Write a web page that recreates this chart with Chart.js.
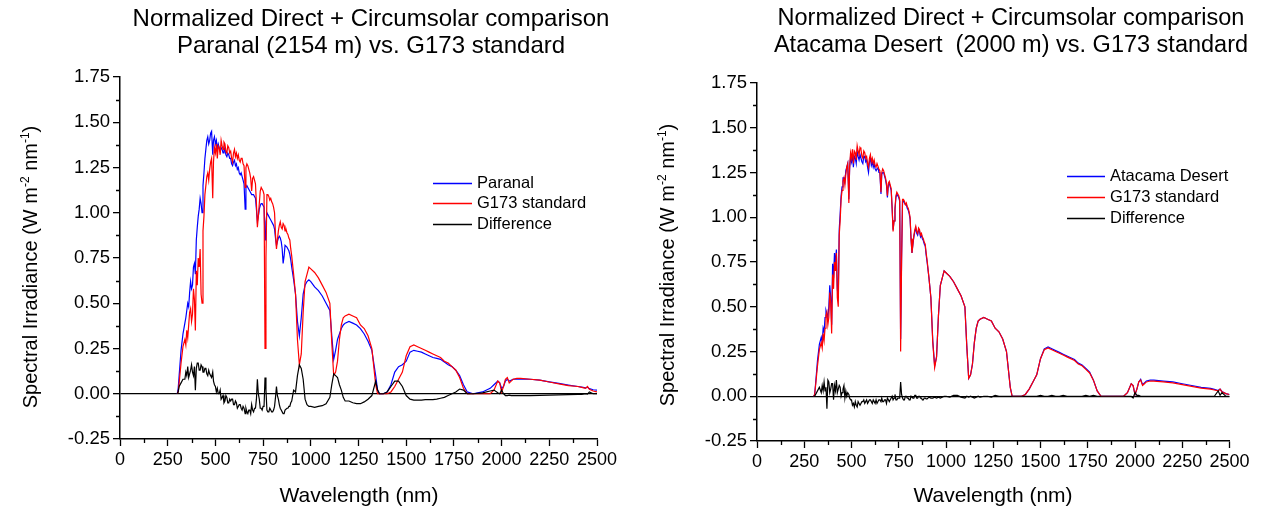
<!DOCTYPE html>
<html>
<head>
<meta charset="utf-8">
<script src="https://cdn.jsdelivr.net/npm/chart.js@4.4.1/dist/chart.umd.min.js"></script>
<style>
  html, body { margin: 0; padding: 0; background: #fff; }
  body { width: 1270px; height: 510px; position: relative; overflow: hidden; }
  canvas { position: absolute; top: 0; }
  #c1 { left: 0; }
  #c2 { left: 635px; }
</style>
</head>
<body>
<canvas id="c1" width="635" height="510"></canvas>
<canvas id="c2" width="635" height="510"></canvas>
<script>
// ---------------- DATA ----------------
const wavelengths = [
  300, 305, 310, 320, 330, 340, 345, 350, 355, 360,
  365, 370, 375, 380, 385, 390, 395, 400, 405, 410,
  415, 420, 425, 430, 435, 440, 445, 450, 455, 460,
  465, 470, 475, 480, 486, 490, 495, 500, 505, 510,
  515, 520, 525, 530, 535, 540, 545, 550, 555, 560,
  565, 570, 575, 580, 585, 590, 595, 600, 605, 610,
  615, 620, 625, 630, 635, 640, 645, 650, 656, 660,
  665, 670, 675, 680, 685, 690, 695, 700, 705, 710,
  715, 720, 725, 730, 735, 740, 745, 750, 755, 760,
  765, 770, 775, 780, 785, 790, 795, 800, 805, 810,
  815, 820, 825, 830, 835, 840, 845, 850, 855, 860,
  865, 870, 875, 880, 885, 890, 895, 900, 910, 920,
  930, 940, 950, 960, 970, 980, 990, 1000, 1020, 1040,
  1060, 1080, 1100, 1110, 1120, 1130, 1140, 1150, 1160, 1170,
  1180, 1200, 1220, 1240, 1260, 1280, 1300, 1320, 1340, 1350,
  1360, 1380, 1400, 1420, 1440, 1460, 1480, 1500, 1520, 1540,
  1560, 1580, 1600, 1620, 1640, 1660, 1680, 1700, 1720, 1740,
  1760, 1780, 1800, 1820, 1850, 1900, 1940, 1960, 1980, 1990,
  2000, 2010, 2020, 2030, 2040, 2050, 2060, 2080, 2100, 2150,
  2200, 2250, 2300, 2350, 2400, 2420, 2440, 2450, 2460, 2480,
  2500
];

const g173 = [
  0, 0.01, 0.06, 0.17, 0.26, 0.30, 0.27, 0.35, 0.31, 0.38,
  0.45, 0.47, 0.40, 0.44, 0.58, 0.52, 0.35, 0.68, 0.60, 0.75,
  0.70, 0.80, 0.55, 0.50, 0.90, 0.98, 1.10, 1.15, 1.20, 1.22,
  1.18, 1.24, 1.28, 1.30, 1.08, 1.28, 1.36, 1.33, 1.38, 1.30,
  1.37, 1.36, 1.32, 1.40, 1.37, 1.35, 1.39, 1.38, 1.34, 1.33,
  1.37, 1.36, 1.33, 1.34, 1.30, 1.28, 1.33, 1.35, 1.31, 1.33,
  1.30, 1.32, 1.29, 1.28, 1.30, 1.30, 1.27, 1.26, 1.14, 1.25,
  1.27, 1.26, 1.24, 1.22, 1.19, 1.12, 1.19, 1.20, 1.18, 1.16,
  1.05, 0.92, 0.98, 1.05, 1.12, 1.14, 1.13, 1.12, 1.10, 0.25,
  0.75, 1.10, 1.10, 1.09, 1.07, 1.08, 1.06, 1.05, 1.03, 1.00,
  0.88, 0.80, 0.85, 0.90, 0.93, 0.95, 0.92, 0.91, 0.94, 0.93,
  0.90, 0.91, 0.89, 0.88, 0.86, 0.85, 0.80, 0.76, 0.66, 0.55,
  0.30, 0.16, 0.22, 0.45, 0.62, 0.66, 0.70, 0.69, 0.67, 0.64,
  0.60, 0.56, 0.50, 0.28, 0.10, 0.12, 0.18, 0.30, 0.38, 0.42,
  0.43, 0.44, 0.43, 0.42, 0.38, 0.36, 0.32, 0.25, 0.05, 0,
  0, 0, 0, 0.01, 0.04, 0.08, 0.12, 0.21, 0.26, 0.27,
  0.26, 0.25, 0.24, 0.23, 0.22, 0.21, 0.20, 0.18, 0.17, 0.15,
  0.13, 0.09, 0.03, 0, 0, 0, 0, 0.02, 0.07, 0.06,
  0.01, 0.04, 0.08, 0.09, 0.06, 0.07, 0.08, 0.085, 0.085, 0.08,
  0.075, 0.065, 0.055, 0.045, 0.04, 0.035, 0.03, 0.04, 0.025, 0.015,
  0.01
];

const paranal = [
  0, 0.03, 0.10, 0.24, 0.33, 0.39, 0.42, 0.46, 0.50, 0.48,
  0.56, 0.62, 0.58, 0.60, 0.70, 0.72, 0.66, 0.85, 0.92, 0.98,
  1.02, 1.08, 1.05, 1.00, 1.15, 1.22, 1.30, 1.35, 1.40, 1.42,
  1.38, 1.40, 1.44, 1.45, 1.32, 1.40, 1.42, 1.38, 1.40, 1.35,
  1.38, 1.36, 1.34, 1.36, 1.35, 1.33, 1.36, 1.35, 1.32, 1.31,
  1.33, 1.32, 1.30, 1.30, 1.27, 1.26, 1.28, 1.29, 1.26, 1.27,
  1.24, 1.25, 1.22, 1.21, 1.22, 1.20, 1.18, 1.16, 1.02, 1.14,
  1.15, 1.14, 1.13, 1.12, 1.11, 1.10, 1.10, 1.10, 1.09, 1.08,
  1.02, 0.95, 0.98, 1.02, 1.04, 1.05, 1.05, 1.04, 1.03, 0.85,
  0.95, 1.00, 0.99, 0.98, 0.97, 0.96, 0.95, 0.94, 0.93, 0.91,
  0.86, 0.82, 0.84, 0.86, 0.87, 0.86, 0.84, 0.80, 0.72, 0.76,
  0.82, 0.82, 0.81, 0.80, 0.79, 0.77, 0.74, 0.70, 0.63, 0.55,
  0.40, 0.32, 0.42, 0.55, 0.60, 0.62, 0.63, 0.62, 0.59, 0.57,
  0.54, 0.50, 0.46, 0.32, 0.19, 0.24, 0.30, 0.33, 0.36, 0.38,
  0.39, 0.40, 0.39, 0.38, 0.36, 0.33, 0.29, 0.24, 0.10, 0.02,
  0, 0, 0.01, 0.05, 0.12, 0.15, 0.16, 0.18, 0.23, 0.24,
  0.235, 0.23, 0.22, 0.21, 0.20, 0.195, 0.19, 0.175, 0.16, 0.15,
  0.13, 0.10, 0.05, 0.01, 0, 0.01, 0.03, 0.05, 0.07, 0.06,
  0.03, 0.04, 0.07, 0.08, 0.07, 0.075, 0.08, 0.08, 0.082, 0.08,
  0.075, 0.066, 0.057, 0.048, 0.04, 0.037, 0.032, 0.036, 0.028, 0.022,
  0.02
];

const diffParanal = [
  0, 0.01, 0.04, 0.06, 0.08, 0.08, 0.12, 0.10, 0.15, 0.09,
  0.11, 0.13, 0.16, 0.12, 0.10, 0.15, 0.02, 0.14, 0.17, 0.17,
  0.13, 0.13, 0.16, 0.15, 0.12, 0.12, 0.14, 0.14, 0.11, 0.10,
  0.13, 0.11, 0.10, 0.09, 0.12, 0.07, 0.05, 0.04, 0.01, 0.03,
  0.00, 0.00, 0.02, -0.03, -0.02, -0.01, -0.05, -0.04, -0.01, -0.02,
  -0.05, -0.05, -0.03, -0.04, -0.03, -0.03, -0.06, -0.06, -0.04, -0.05,
  -0.08, -0.07, -0.06, -0.06, -0.08, -0.09, -0.07, -0.08, -0.11, -0.08,
  -0.10, -0.11, -0.09, -0.09, -0.11, -0.06, -0.09, -0.10, -0.08, -0.08,
  -0.03, 0.08, 0.00, -0.03, -0.08, -0.08, -0.09, -0.07, -0.07, 0.09,
  0.02, -0.09, -0.10, -0.10, -0.08, -0.09, -0.10, -0.10, -0.09, -0.07,
  -0.02, 0.04, -0.01, -0.03, -0.06, -0.08, -0.09, -0.10, -0.11, -0.11,
  -0.09, -0.09, -0.08, -0.08, -0.07, -0.07, -0.05, -0.04, 0.02, 0.01,
  0.10, 0.16, 0.14, 0.08, -0.03, -0.06, -0.07, -0.07, -0.075, -0.07,
  -0.066, -0.055, -0.02, 0.05, 0.11, 0.10, 0.09, 0.05, 0.02, -0.02,
  -0.04, -0.04, -0.05, -0.055, -0.055, -0.045, -0.03, -0.01, 0.07, 0.02,
  0, 0, 0.01, 0.04, 0.07, 0.07, 0.04, -0.01, -0.03, -0.035,
  -0.035, -0.035, -0.033, -0.033, -0.032, -0.03, -0.025, -0.02, -0.01, 0,
  0.01, 0.026, 0.02, 0, 0, 0.005, 0.015, 0.02, 0.005, 0,
  0.02, 0, -0.01, -0.01, -0.008, -0.01, -0.01, -0.01, -0.01, -0.01,
  -0.009, -0.008, -0.006, -0.005, -0.004, -0.003, 0, -0.002, 0.01, 0,
  0
];

const atacama = [
  0, 0.01, 0.07, 0.20, 0.29, 0.33, 0.30, 0.38, 0.36, 0.44,
  0.48, 0.46, 0.44, 0.50, 0.62, 0.55, 0.40, 0.74, 0.66, 0.80,
  0.74, 0.82, 0.60, 0.55, 0.93, 1.02, 1.12, 1.17, 1.22, 1.22,
  1.20, 1.26, 1.28, 1.30, 1.10, 1.27, 1.34, 1.31, 1.35, 1.28,
  1.34, 1.33, 1.30, 1.37, 1.34, 1.32, 1.35, 1.35, 1.31, 1.30,
  1.34, 1.34, 1.31, 1.32, 1.28, 1.25, 1.31, 1.33, 1.29, 1.31,
  1.28, 1.30, 1.27, 1.26, 1.27, 1.28, 1.25, 1.25, 1.13, 1.24,
  1.25, 1.25, 1.23, 1.21, 1.18, 1.11, 1.18, 1.19, 1.17, 1.15,
  1.05, 0.93, 0.98, 1.04, 1.11, 1.13, 1.12, 1.11, 1.09, 0.32,
  0.77, 1.09, 1.09, 1.08, 1.07, 1.07, 1.05, 1.04, 1.02, 0.99,
  0.88, 0.80, 0.85, 0.89, 0.92, 0.94, 0.91, 0.90, 0.93, 0.92,
  0.89, 0.90, 0.88, 0.87, 0.85, 0.84, 0.79, 0.75, 0.66, 0.55,
  0.31, 0.17, 0.22, 0.45, 0.62, 0.66, 0.70, 0.69, 0.67, 0.64,
  0.60, 0.56, 0.50, 0.28, 0.10, 0.12, 0.18, 0.30, 0.38, 0.42,
  0.43, 0.44, 0.43, 0.42, 0.38, 0.36, 0.32, 0.25, 0.05, 0,
  0, 0, 0, 0.01, 0.04, 0.08, 0.12, 0.21, 0.265, 0.275,
  0.265, 0.255, 0.245, 0.235, 0.225, 0.215, 0.205, 0.185, 0.175, 0.155,
  0.135, 0.09, 0.03, 0, 0, 0, 0, 0.02, 0.07, 0.06,
  0.01, 0.04, 0.08, 0.095, 0.065, 0.075, 0.085, 0.09, 0.09, 0.085,
  0.08, 0.07, 0.06, 0.05, 0.044, 0.038, 0.032, 0.04, 0.027, 0.015,
  0.01
];

const diffAtacama = [
  0, 0, 0.01, 0.03, 0.05, 0.02, 0.06, 0.03, 0.08, 0.03,
  0.05, -0.07, 0.09, 0.08, 0.02, 0.04, 0.07, 0.07, -0.02, 0.06,
  0.03, 0.09, 0.02, 0.04, 0.06, 0.05, 0.0, 0.02, 0.04, 0.06,
  -0.01, 0.03, 0.0, 0.02, 0.01, -0.01, -0.02, -0.02, -0.05, -0.04,
  -0.06, -0.03, -0.05, -0.06, -0.03, -0.04, -0.05, -0.05, -0.03, -0.03,
  -0.02, -0.04, -0.03, -0.02, -0.04, -0.03, -0.02, -0.02, -0.03, -0.04,
  -0.02, -0.03, -0.04, -0.02, -0.04, -0.04, -0.02, -0.02, -0.03, -0.01,
  -0.03, -0.03, -0.02, -0.02, -0.04, -0.01, -0.02, -0.03, -0.02, -0.01,
  0.0, -0.02, -0.01, 0.01, -0.02, -0.02, -0.01, -0.01, -0.01, 0.08,
  0.01, -0.01, -0.02, -0.02, 0.0, 0.0, -0.01, -0.01, -0.02, -0.02,
  0.0, 0.0, -0.01, -0.01, 0.005, 0.005, -0.01, -0.01, 0.0, 0.0,
  -0.01, -0.01, -0.02, -0.02, -0.01, -0.01, -0.015, -0.015, -0.005, -0.01,
  -0.01, -0.005, -0.01, -0.005, -0.01, -0.005, 0.0, 0.0, -0.005, 0.005,
  0.005, -0.005, -0.01, 0.0, -0.005, 0.0, -0.005, -0.01, -0.005, 0.0,
  -0.005, 0.0, 0.0, -0.005, 0.005, 0.0, 0.0, 0.0, 0.0, 0.0,
  0.0, 0.0, 0.0, 0.0, 0.0, 0.0, 0.0, 0.005, 0.0, 0.0,
  0.005, 0.0, 0.0, 0.005, 0.0, 0.0, 0.0, 0.0, 0.0, 0.005,
  0.0, 0.005, 0.0, 0.0, 0.0, 0.0, 0.0, 0.0, 0.0, -0.01,
  0.02, 0.005, 0.005, 0.0, 0.0, 0.0, 0.0, 0.0, 0.0, 0.0,
  0.0, 0.0, 0.0, 0.0, 0.0, 0.0, 0.03, 0.005, 0.02, 0.0,
  0.0
];

const titleLine1 = "Normalized Direct + Circumsolar comparison";
const titleParanal = "Paranal (2154 m) vs. G173 standard";
const titleAtacama = "Atacama Desert  (2000 m) vs. G173 standard";
const xTitle = "Wavelength (nm)";
const yTitleParts = ["Spectral Irradiance (W m", "-2", " nm", "-1", ")"];
const xMin = 0, xMax = 2500, xStep = 250;
const yMin = -0.25, yMax = 1.75, yStep = 0.25;

// ---------------- HELPERS ----------------
const FONT = "'Liberation Sans', Arial, Helvetica, sans-serif";
const toXY = (vals) => wavelengths.map((w, i) => ({ x: w, y: vals[i] }));

function decorPlugin(L) {
  return {
    id: 'decor',
    afterDraw(chart) {
      const ctx = chart.ctx;
      const xs = chart.scales.x, ys = chart.scales.y;
      const area = chart.chartArea;
      ctx.save();
      // minor ticks
      ctx.strokeStyle = '#000';
      ctx.lineWidth = 1.3;
      ctx.beginPath();
      for (let v = xMin + xStep / 2; v < xMax; v += xStep) {
        const px = Math.round(xs.getPixelForValue(v)) + 0.5;
        ctx.moveTo(px, area.bottom);
        ctx.lineTo(px, area.bottom + 4);
      }
      for (let v = yMin + yStep / 2; v < yMax; v += yStep) {
        const py = Math.round(ys.getPixelForValue(v)) + 0.5;
        ctx.moveTo(area.left, py);
        ctx.lineTo(area.left - 4, py);
      }
      ctx.stroke();

      ctx.fillStyle = '#000';
      // titles
      ctx.textAlign = 'center';
      ctx.textBaseline = 'middle';
      ctx.font = L.titleSize + 'px ' + FONT;
      ctx.fillText(titleLine1, L.titleX, L.title1Y);
      ctx.fillText(L.title2, L.titleX, L.title2Y);

      // x title
      ctx.font = '21px ' + FONT;
      ctx.fillText(xTitle, L.xTitleX, L.xTitleY);

      // y title with superscripts
      const big = '20px ' + FONT, small = '12px ' + FONT;
      const widths = yTitleParts.map((t, i) => {
        ctx.font = (i === 1 || i === 3) ? small : big;
        return ctx.measureText(t).width;
      });
      const total = widths.reduce((a, b) => a + b, 0);
      ctx.translate(L.yTitleX, L.yTitleY);
      ctx.rotate(-Math.PI / 2);
      ctx.textAlign = 'left';
      ctx.textBaseline = 'alphabetic';
      let cx = -total / 2;
      yTitleParts.forEach((t, i) => {
        const sup = (i === 1 || i === 3);
        ctx.font = sup ? small : big;
        ctx.fillText(t, cx, sup ? -1 : 7);
        cx += widths[i];
      });
      ctx.setTransform(1, 0, 0, 1, 0, 0);

      // legend
      ctx.font = '16.5px ' + FONT;
      ctx.textAlign = 'left';
      ctx.textBaseline = 'middle';
      chart.data.datasets.forEach((ds, i) => {
        const y = L.legendY[i] + 0.5;
        ctx.strokeStyle = ds.borderColor;
        ctx.lineWidth = 1.5;
        ctx.beginPath();
        ctx.moveTo(L.legendLineX0, y);
        ctx.lineTo(L.legendLineX1, y);
        ctx.stroke();
        ctx.fillStyle = '#000';
        ctx.fillText(ds.label, L.legendTextX, L.legendY[i]);
      });
      ctx.restore();
    }
  };
}

function makeChart(id, seriesLabel, seriesVals, diffVals, L) {
  return new Chart(document.getElementById(id), {
    type: 'line',
    data: {
      datasets: [
        { label: seriesLabel, data: toXY(seriesVals), borderColor: '#0000ff', borderWidth: 1.2, pointRadius: 0, order: 2 },
        { label: 'G173 standard', data: toXY(g173), borderColor: '#ff0000', borderWidth: 1.2, pointRadius: 0, order: 1 },
        { label: 'Difference', data: toXY(diffVals), borderColor: '#000000', borderWidth: 1.2, pointRadius: 0, order: 0 }
      ]
    },
    options: {
      responsive: false,
      animation: false,
      devicePixelRatio: 1,
      layout: { padding: { top: L.top, right: L.right, bottom: 0, left: 0 } },
      plugins: { legend: { display: false }, title: { display: false }, tooltip: { enabled: false } },
      elements: { line: { tension: 0 } },
      scales: {
        x: {
          type: 'linear', min: xMin, max: xMax,
          afterFit: (s) => { s.height = L.xAxisH; },
          ticks: { stepSize: xStep, autoSkip: false, maxRotation: 0, color: '#000', padding: 3,
                   font: { family: FONT, size: 18 },
                   callback: (v) => String(v) },
          grid: { drawOnChartArea: false, drawTicks: true, tickLength: 7, tickColor: '#000', tickWidth: 1.3 },
          border: { display: true, color: '#000', width: 1.5 }
        },
        y: {
          type: 'linear', min: yMin, max: yMax,
          afterFit: (s) => { s.width = L.yAxisW; },
          ticks: { stepSize: yStep, color: '#000', padding: 3,
                   font: { family: FONT, size: 18.5 },
                   callback: (v) => Number(v).toFixed(2) },
          grid: { drawOnChartArea: true, drawTicks: true, tickLength: 7, tickColor: '#000', tickWidth: 1.3,
                  lineWidth: 1.3,
                  color: (c) => (c.tick && Math.abs(c.tick.value) < 1e-9) ? '#000' : 'rgba(0,0,0,0)' },
          border: { display: true, color: '#000', width: 1.5 }
        }
      }
    },
    plugins: [decorPlugin(L)]
  });
}

makeChart('c1', 'Paranal', paranal, diffParanal, {
  top: 77, right: 38, xAxisH: 71, yAxisW: 120,
  title2: titleParanal, titleSize: 24, titleX: 371, title1Y: 19, title2Y: 46,
  xTitleX: 359, xTitleY: 496, yTitleX: 30, yTitleY: 267,
  legendY: [183, 203, 224], legendLineX0: 433, legendLineX1: 472, legendTextX: 477
});

makeChart('c2', 'Atacama Desert', atacama, diffAtacama, {
  top: 83, right: 40.5, xAxisH: 69, yAxisW: 122,
  title2: titleAtacama, titleSize: 23.5, titleX: 376, title1Y: 19, title2Y: 46,
  xTitleX: 358, xTitleY: 496, yTitleX: 32, yTitleY: 265,
  legendY: [176, 197, 218], legendLineX0: 432, legendLineX1: 470, legendTextX: 475
});
</script>
</body>
</html>
